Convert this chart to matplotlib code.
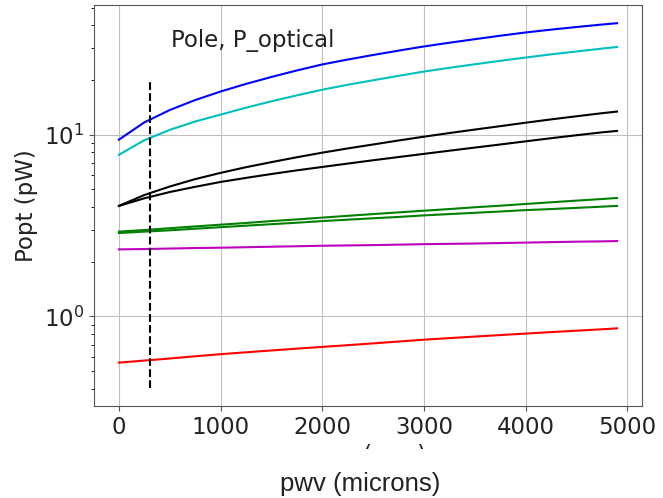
import matplotlib
matplotlib.use("Agg")
import matplotlib.pyplot as plt
from matplotlib.patches import Rectangle

# pwv grid (microns)
pwv = [0, 250, 500, 750, 1000, 1250, 1500, 1750, 2000, 2250, 2500,
       2750, 3000, 3250, 3500, 3750, 4000, 4250, 4500, 4750, 4900]

# optical loading per band (pW)
p_blue = [9.40, 11.70, 13.68, 15.52, 17.30, 19.05, 20.80, 22.59, 24.38, 25.94, 27.48,
          29.04, 30.62, 32.10, 33.57, 35.08, 36.56, 37.89, 39.17, 40.42, 41.11]
p_cyan = [7.76, 9.33, 10.64, 11.83, 12.91, 14.09, 15.28, 16.48, 17.70, 18.84, 19.95,
          21.09, 22.28, 23.36, 24.43, 25.53, 26.61, 27.70, 28.74, 29.79, 30.41]
p_black1 = [4.06, 4.66, 5.19, 5.70, 6.17, 6.63, 7.07, 7.52, 7.97, 8.41, 8.84,
            9.30, 9.76, 10.22, 10.68, 11.15, 11.65, 12.15, 12.64, 13.14, 13.42]
p_black2 = [4.06, 4.47, 4.84, 5.17, 5.50, 5.79, 6.08, 6.37, 6.65, 6.94, 7.24,
            7.54, 7.85, 8.17, 8.50, 8.84, 9.20, 9.57, 9.94, 10.31, 10.50]
p_green1 = [2.93, 2.99, 3.06, 3.13, 3.20, 3.27, 3.35, 3.42, 3.50, 3.58, 3.66,
            3.74, 3.82, 3.90, 3.99, 4.07, 4.16, 4.25, 4.34, 4.43, 4.49]
p_green2 = [2.88, 2.93, 2.98, 3.04, 3.10, 3.16, 3.22, 3.28, 3.35, 3.41, 3.47,
            3.53, 3.60, 3.66, 3.72, 3.78, 3.85, 3.90, 3.96, 4.02, 4.06]
p_magenta = [2.34, 2.35, 2.365, 2.38, 2.39, 2.405, 2.42, 2.435, 2.45, 2.46, 2.47,
             2.485, 2.50, 2.51, 2.52, 2.535, 2.55, 2.565, 2.58, 2.59, 2.60]
p_red = [0.557, 0.572, 0.587, 0.604, 0.620, 0.635, 0.650, 0.665, 0.680, 0.695, 0.711,
         0.728, 0.745, 0.760, 0.775, 0.790, 0.805, 0.820, 0.835, 0.850, 0.860]

pwv_site = 310
vline_lo, vline_hi = 0.405, 20.4

fig = plt.figure(figsize=(6.63, 4.98), dpi=100)
ax = fig.add_axes([0.1418, 0.1847, 0.8265, 0.8053])

ax.plot(pwv, p_blue, color='b', lw=1.5)
ax.plot(pwv, p_cyan, color='c', lw=1.5)
ax.plot(pwv, p_black1, color='k', lw=1.5)
ax.plot(pwv, p_black2, color='k', lw=1.5)
ax.plot(pwv, p_green1, color='g', lw=1.5)
ax.plot(pwv, p_green2, color='g', lw=1.5)
ax.plot(pwv, p_magenta, color='m', lw=1.5)
ax.plot(pwv, p_red, color='r', lw=1.5)
ax.vlines(pwv_site, vline_lo, vline_hi, colors='k', linestyles='--', lw=1.5)

ax.set_yscale('log')
ax.grid(True, color='#c0c0c0', lw=0.8)
for s in ax.spines.values():
    s.set_color('#555555')
ax.tick_params(labelsize=16.5, colors='#555555', labelcolor='#222222')

ax.text(513, 30.3, 'Pole, P_optical', fontsize=16.5, va='baseline', color='#222222')
ax.set_ylabel('Popt (pW)', fontsize=16.5, color='#222222')
ax.set_xlabel('pwv (mm)', fontsize=16.5, color='#222222')

# old label covered up, new one written underneath
fig.add_artist(Rectangle((0, 1 - 471 / 498), 1, 22 / 498, transform=fig.transFigure,
                         facecolor='white', edgecolor='none', zorder=5))
fig.text(0.544, 1 - 484 / 498, 'pwv (microns)', fontsize=18.5, family='Liberation Sans',
         ha='center', va='center', color='#222222', zorder=6)

fig.savefig('out.png', dpi=100)
